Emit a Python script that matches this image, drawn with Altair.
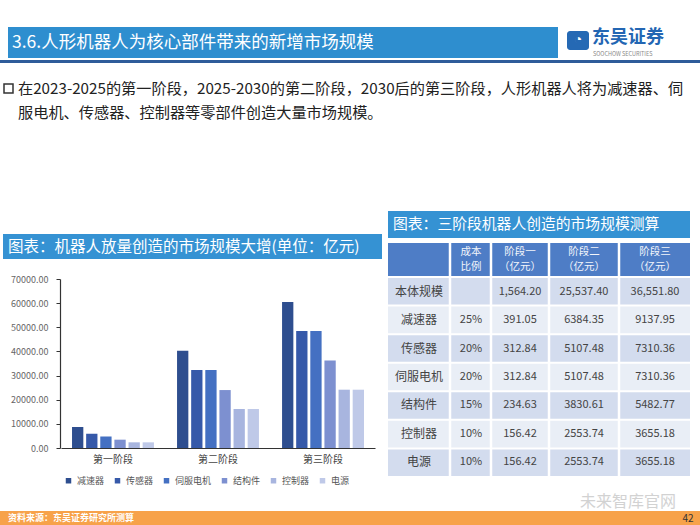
import altair as alt
import pandas as pd

FONT = "Noto Sans CJK SC"

# ---------------- data ----------------
stages = ["第一阶段", "第二阶段", "第三阶段"]
parts = ["减速器", "传感器", "伺服电机", "结构件", "控制器", "电源"]
stage1_vals = [8700, 5900, 4800, 3450, 2350, 2350]
stage2_vals = [40300, 32300, 32300, 24000, 16150, 16150]
stage3_vals = [60500, 48500, 48500, 36200, 24150, 24150]
y_ticks = [0, 10000, 20000, 30000, 40000, 50000, 60000, 70000]
part_colors = ["#2E4E8F", "#3659A9", "#4470C2", "#7D90D0", "#A8B5DF", "#BFC9E8"]

tbl_rows = ["本体规模", "减速器", "传感器", "伺服电机", "结构件", "控制器", "电源"]
tbl_ratio = ["", "25%", "20%", "20%", "15%", "10%", "10%"]
tbl_s1 = ["1,564.20", "391.05", "312.84", "312.84", "234.63", "156.42", "156.42"]
tbl_s2 = ["25,537.40", "6384.35", "5107.48", "5107.48", "3830.61", "2553.74", "2553.74"]
tbl_s3 = ["36,551.80", "9137.95", "7310.36", "7310.36", "5482.77", "3655.18", "3655.18"]
tbl_headers = [("成本", "比例"), ("阶段一", "（亿元）"), ("阶段二", "（亿元）"), ("阶段三", "（亿元）")]

slide_title = "3.6.人形机器人为核心部件带来的新增市场规模"
para1 = "在2023-2025的第一阶段，2025-2030的第二阶段，2030后的第三阶段，人形机器人将为减速器、伺"
para2 = "服电机、传感器、控制器等零部件创造大量市场规模。"
chart_title = "图表：机器人放量创造的市场规模大增(单位：亿元)"
table_title = "图表：三阶段机器人创造的市场规模测算"
source_text = "资料来源：东吴证券研究所测算"

one = pd.DataFrame({"k": [0]})


def rect(x, y, x2, y2, color, **kw):
    return alt.Chart(one).mark_rect(color=color, **kw).encode(
        x=alt.value(x), x2=alt.value(x2), y=alt.value(y), y2=alt.value(y2))


def txt(s, x, y, size=12, color="#222", align="left", weight="normal", **kw):
    return alt.Chart(one).mark_text(font=FONT, fontSize=size, color=color, align=align,
                                    baseline="middle", fontWeight=weight, **kw).encode(
        x=alt.value(x), y=alt.value(y), text=alt.value(s))


layers = []

# ---------------- slide header ----------------
layers.append(rect(8, 27, 558, 58, "#2E8ECF"))
layers.append(txt(slide_title, 12, 43, size=17.5, color="white"))
layers.append(rect(0, 60, 700, 63, "#2F5C9A"))
layers.append(rect(567, 31, 589, 50, "#2569B4", cornerRadius=3))
layers.append(txt("◔", 578, 40, size=14, color="white", align="center"))
layers.append(txt("东吴证券", 592, 38, size=18, color="#2366B3", weight="bold"))
layers.append(txt("SOOCHOW SECURITIES", 593, 54, size=5.5, color="#888"))

# ---------------- paragraph ----------------
layers.append(rect(4, 84, 13, 93, "white", stroke="#333", strokeWidth=1.5))
layers.append(txt(para1, 18, 89, size=15.2, color="#222"))
layers.append(txt(para2, 18, 113, size=15.2, color="#222"))

# ---------------- left chart ----------------
layers.append(rect(3, 234, 382, 259, "#3592D3"))
layers.append(txt(chart_title, 8, 247, size=15.5, color="white"))

bars = pd.DataFrame([
    {"stage": s, "part": p, "value": v}
    for s, vals in zip(stages, [stage1_vals, stage2_vals, stage3_vals])
    for p, v in zip(parts, vals)
])

bar_chart = alt.Chart(bars).mark_bar().encode(
    x=alt.X("stage:N", sort=stages,
            scale=alt.Scale(domain=stages, range=[61, 375], paddingInner=0.22, paddingOuter=0.105),
            axis=alt.Axis(orient="bottom", offset=-77, title=None, labelAngle=0, ticks=False,
                          domainColor="#333", domainWidth=1.2, labelFont=FONT, labelFontSize=10,
                          labelColor="#444", labelPadding=6)),
    xOffset=alt.XOffset("part:N", sort=parts, scale=alt.Scale(domain=parts, paddingInner=0.2)),
    y=alt.Y("value:Q", scale=alt.Scale(domain=[0, 70000], range=[448, 279]),
            axis=alt.Axis(orient="left", offset=-60, title=None, values=y_ticks, format=".2f",
                          grid=False, domainColor="#333", domainWidth=1.2, tickColor="#333",
                          tickSize=4, labelFont=FONT, labelFontSize=9, labelColor="#666",
                          labelPadding=8)),
    color=alt.Color("part:N", sort=parts, scale=alt.Scale(domain=parts, range=part_colors),
                    legend=alt.Legend(orient="none", legendX=64, legendY=476, direction="horizontal",
                                      title=None, symbolType="square", symbolSize=30,
                                      labelFont=FONT, labelFontSize=9, labelColor="#555",
                                      columnPadding=8, symbolStrokeWidth=0)),
)
layers.append(bar_chart)

# ---------------- right table ----------------
layers.append(rect(388, 211, 690, 238, "#3592D3"))
layers.append(txt(table_title, 393, 225, size=14.8, color="white"))
layers.append(rect(388, 243, 690, 276, "#4E7DC6"))

tbl = pd.DataFrame({"row": tbl_rows, "ratio": tbl_ratio, "s1": tbl_s1, "s2": tbl_s2, "s3": tbl_s3})
row_scale = alt.Scale(domain=tbl_rows, range=[278, 476], paddingInner=0.07, paddingOuter=0.0)

row_bg = alt.Chart(tbl).transform_window(idx="row_number()").transform_calculate(
    par="datum.idx % 2").mark_rect().encode(
    y=alt.Y("row:N", sort=tbl_rows, scale=row_scale, axis=None),
    x=alt.value(388), x2=alt.value(690),
    color=alt.Color("par:N", scale=alt.Scale(domain=[1, 0], range=["#D3DCEE", "#E9EEF6"]), legend=None),
)
layers.append(row_bg)

for sx in [450, 491, 549, 619]:
    layers.append(alt.Chart(one).mark_rule(color="white", strokeWidth=2.5).encode(
        x=alt.value(sx), y=alt.value(243), y2=alt.value(476)))

col_centers = [471, 520, 584, 655]
for cx, (l1, l2) in zip(col_centers, tbl_headers):
    layers.append(txt(l1, cx, 252, size=10.5, color="#F2F5FB", align="center"))
    layers.append(txt(l2, cx, 267, size=10.5, color="#F2F5FB", align="center"))

for field, cx, size in [("row", 419, 12), ("ratio", 471, 11), ("s1", 520, 11), ("s2", 584, 11), ("s3", 655, 11)]:
    layers.append(alt.Chart(tbl).mark_text(font=FONT, fontSize=size, color="#444", align="center",
                                           baseline="middle").encode(
        y=alt.Y("row:N", sort=tbl_rows, scale=row_scale, axis=None),
        x=alt.value(cx),
        text=alt.Text(f"{field}:N"),
    ))

# ---------------- footer ----------------
layers.append(rect(0, 511, 700, 525, "#F7A24A"))
layers.append(txt(source_text, 8, 518, size=9, color="white", weight="bold"))
layers.append(txt("未来智库官网", 580, 502, size=16, color="#C8C8C8", opacity=0.8))
layers.append(txt("42", 688, 519, size=10, color="#333", align="center"))

chart = alt.layer(*layers).resolve_scale(
    x="independent", y="independent", color="independent"
).properties(
    width=700, height=525, padding=0, autosize="none"
).configure_view(stroke=None)

chart.save("out.html", embed_options={"renderer": "svg", "actions": False})
